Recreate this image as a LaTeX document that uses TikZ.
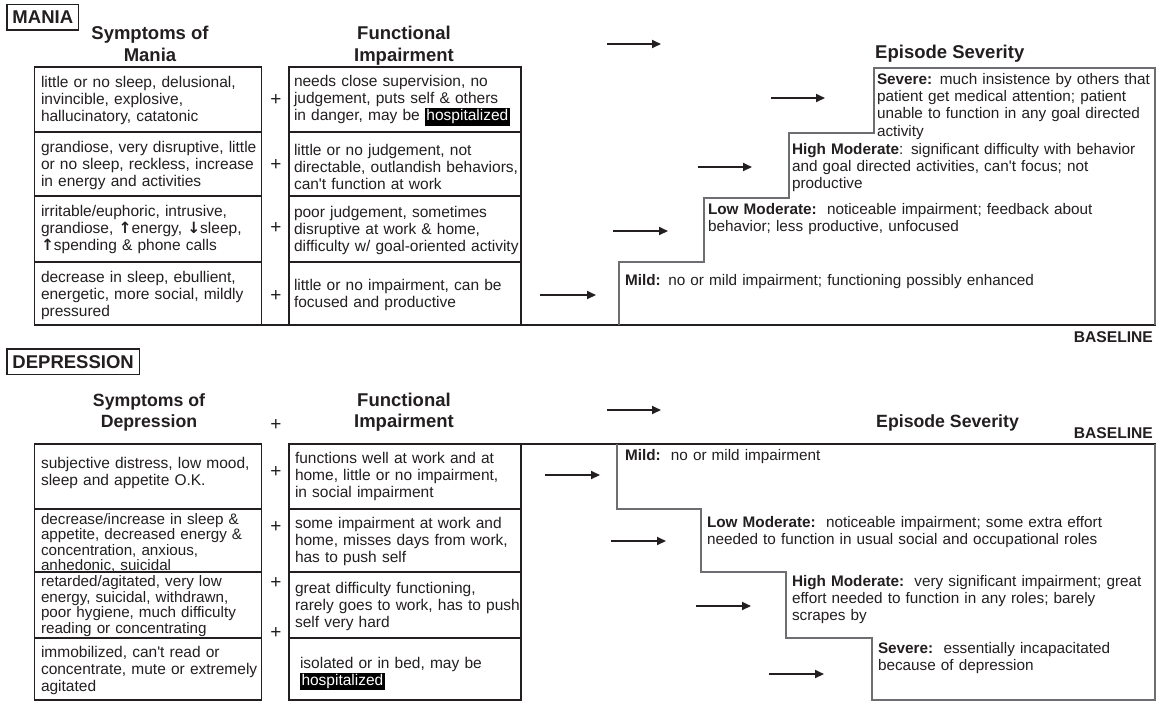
\documentclass[tikz,border=0pt]{standalone}
\usepackage{fontspec}
\setmainfont{Liberation Sans}[Ligatures=TeXOff]
\newfontfamily\arrowfont{DejaVu Sans}
\usetikzlibrary{arrows.meta}
\definecolor{ink}{HTML}{231F20}
\definecolor{stairc}{HTML}{6D6E71}
\newcommand\hosp[1]{\smash{\setlength{\fboxsep}{1.5pt}\colorbox{black}{\textcolor{white}{#1}}}}
\newcommand\upar{{\arrowfont\bfseries ↑}}
\newcommand\dnar{{\arrowfont\bfseries ↓}}
\newcommand\bodyfont{\fontsize{15.5}{17.4}\selectfont}
\newcommand\stairfont{\fontsize{15.3}{17.4}\selectfont}
\newcommand\tightfont{\fontsize{15.2}{15.5}\selectfont}
\tikzset{
  cell/.style={anchor=base west, inner sep=0pt, outer sep=0pt, text width=250pt, align=left, font=\bodyfont, text=ink},
  tcell/.style={cell, font=\tightfont},
  scell/.style={cell, text width=520pt, font=\stairfont},
  head/.style={anchor=base, inner sep=0pt, font=\fontsize{18.5}{20}\selectfont\bfseries, text=ink},
  headb/.style={anchor=base, inner sep=0pt, font=\fontsize{17.7}{20}\selectfont\bfseries, text=ink},
  plus/.style={inner sep=0pt, font=\fontsize{19}{20}\selectfont, text=ink},
  tagbox/.style={anchor=base west, draw=ink, line width=1.1pt, inner xsep=5.5pt, inner ysep=6pt, outer sep=0pt, text height=13pt, text depth=0.5pt, font=\fontsize{18.5}{20}\selectfont\bfseries, text=ink},
  tbl/.style={draw=ink, line width=1.1pt},
  stairline/.style={draw=stairc, line width=1.3pt},
  arr/.style={draw=ink, line width=1.8pt, -{Triangle[length=9pt,width=8pt]}},
  bl/.style={anchor=base east, inner sep=0pt, font=\fontsize{15.6}{17}\selectfont\bfseries, text=ink}
}
\begin{document}
\begin{tikzpicture}[x=1pt,y=-1pt]
\useasboundingbox (0,0) rectangle (1158,702);
\fill[white] (0,0) rectangle (1158,702);

% ================= MANIA =================
\node[tagbox] (mania) at (7,23.5) {MANIA};
\node[head] (hsm1) at (150,39) {Symptoms of};
\node[head] (hsm2) at (150,61) {Mania};
\node[head] (hfm1) at (404,39) {Functional};
\node[head] (hfm2) at (404,61) {Impairment};
\node[head, anchor=base west] (esm) at (875,58) {Episode Severity};

% tables
\draw[tbl] (34.5,67) rectangle (261.5,325);
\draw[tbl] (34.5,132) -- (261.5,132) (34.5,196) -- (261.5,196) (34.5,262) -- (261.5,262);
\draw[tbl] (289,67) rectangle (521,325);
\draw[tbl] (289,132) -- (521,132) (289,196) -- (521,196) (289,262) -- (521,262);
\draw[tbl] (34.5,325) -- (1155.5,325);

\node[cell] (ms1) at (41,87) {little or no sleep, delusional,\\invincible, explosive,\\hallucinatory, catatonic};
\node[cell] (ms2) at (41,152) {grandiose, very disruptive, little\\or no sleep, reckless, increase\\in energy and activities};
\node[cell] (ms3) at (41,216) {irritable/euphoric, intrusive,\\grandiose, \upar energy, \dnar sleep,\\\upar spending \& phone calls};
\node[cell] (ms4) at (41,282) {decrease in sleep, ebullient,\\energetic, more social, mildly\\pressured};

\node[plus] (mp1) at (276,100) {+};
\node[plus] (mp2) at (276,165) {+};
\node[plus] (mp3) at (276,228) {+};
\node[plus] (mp4) at (276,296) {+};

\node[cell] (mf1) at (294,86) {needs close supervision, no\\judgement, puts self \& others\\in danger, may be \hosp{hospitalized}};
\node[cell] (mf2) at (294,155) {little or no judgement, not\\directable, outlandish behaviors,\\can't function at work};
\node[cell] (mf3) at (294,217) {poor judgement, sometimes\\disruptive at work \& home,\\difficulty w/ goal-oriented activity};
\node[cell] (mf4) at (294,290) {little or no impairment, can be\\focused and productive};

% staircase
\draw[stairline] (619,325) -- (619,262) -- (704,262) -- (704,198) -- (789,198) -- (789,133) -- (874,133) -- (874,68) -- (1155,68) -- (1155,325);
\node[scell] (msev) at (877,84) {\textbf{Severe:} much insistence by others that\\patient get medical attention; patient\\unable to function in any goal directed\\activity};
\node[scell] (mhm) at (792,154) {\textbf{High Moderate}: significant difficulty with behavior\\and goal directed activities, can't focus; not\\productive};
\node[scell] (mlm) at (708,214) {\textbf{Low Moderate:}\ \ noticeable impairment; feedback about\\behavior; less productive, unfocused};
\node[scell] (mmild) at (625,285) {\textbf{Mild:} no or mild impairment; functioning possibly enhanced};
\node[bl] (mbase) at (1153,342) {BASELINE};

% arrows
\coordinate (ma1s) at (607,44);  \coordinate (ma1e) at (661,44);
\coordinate (ma2s) at (771,98);  \coordinate (ma2e) at (825,98);
\coordinate (ma3s) at (698,167); \coordinate (ma3e) at (752,167);
\coordinate (ma4s) at (613,231); \coordinate (ma4e) at (668,231);
\coordinate (ma5s) at (540,295); \coordinate (ma5e) at (596,295);
\draw[arr] (ma1s) -- (ma1e);
\draw[arr] (ma2s) -- (ma2e);
\draw[arr] (ma3s) -- (ma3e);
\draw[arr] (ma4s) -- (ma4e);
\draw[arr] (ma5s) -- (ma5e);

% ================= DEPRESSION =================
\node[tagbox] (depr) at (7,368) {DEPRESSION};
\node[headb] (hsd1) at (149,406) {Symptoms of};
\node[headb] (hsd2) at (149,427) {Depression};
\node[head] (hfd1) at (404,406) {Functional};
\node[head] (hfd2) at (404,427) {Impairment};
\node[plus] (dp0) at (276,425) {+};
\node[headb, anchor=base west] (esd) at (876,427) {Episode Severity};
\node[bl] (dbase) at (1153,438) {BASELINE};

\draw[tbl] (34.5,444) rectangle (261.5,700);
\draw[tbl] (34.5,509) -- (261.5,509) (34.5,572) -- (261.5,572) (34.5,638) -- (261.5,638);
\draw[tbl] (289,444) rectangle (521,700);
\draw[tbl] (289,509) -- (521,509) (289,572) -- (521,572) (289,638) -- (521,638);
\draw[tbl] (521,444) -- (1155.5,444);

\node[cell] (ds1) at (41,468) {subjective distress, low mood,\\sleep and appetite O.K.};
\node[tcell] (ds2) at (41,524) {decrease/increase in sleep \&\\appetite, decreased energy \&\\concentration, anxious,\\anhedonic, suicidal};
\node[tcell] (ds3) at (41,586.5) {retarded/agitated, very low\\energy, suicidal, withdrawn,\\poor hygiene, much difficulty\\reading or concentrating};
\node[cell] (ds4) at (41,657) {immobilized, can't read or\\concentrate, mute or extremely\\agitated};

\node[plus] (dp1) at (276,472) {+};
\node[plus] (dp2) at (276,527) {+};
\node[plus] (dp3) at (276,583) {+};
\node[plus] (dp4) at (276,633) {+};

\node[cell] (df1) at (295,463) {functions well at work and at\\home, little or no impairment,\\in social impairment};
\node[cell] (df2) at (295,528) {some impairment at work and\\home, misses days from work,\\has to push self};
\node[cell] (df3) at (295,593) {great difficulty functioning,\\rarely goes to work, has to push\\self very hard};
\node[cell] (df4) at (300,668) {isolated or in bed, may be\\\hosp{hospitalized}};

\draw[stairline] (617,444) -- (617,509) -- (701,509) -- (701,572) -- (786,572) -- (786,638) -- (872,638) -- (872,700) -- (1155,700) -- (1155,444);
\node[scell] (dmild) at (625,460) {\textbf{Mild:}\ \ no or mild impairment};
\node[scell] (dlm) at (707,527) {\textbf{Low Moderate:}\ \ noticeable impairment; some extra effort\\needed to function in usual social and occupational roles};
\node[scell] (dhm) at (792,586) {\textbf{High Moderate:}\ \ very significant impairment; great\\effort needed to function in any roles; barely\\scrapes by};
\node[scell] (dsev) at (878,653) {\textbf{Severe:}\ \ essentially incapacitated\\because of depression};

\coordinate (da1s) at (607,410); \coordinate (da1e) at (661,410);
\coordinate (da2s) at (545,475); \coordinate (da2e) at (600,475);
\coordinate (da3s) at (611,541); \coordinate (da3e) at (666,541);
\coordinate (da4s) at (696,606); \coordinate (da4e) at (751,606);
\coordinate (da5s) at (769,674); \coordinate (da5e) at (824,674);
\draw[arr] (da1s) -- (da1e);
\draw[arr] (da2s) -- (da2e);
\draw[arr] (da3s) -- (da3e);
\draw[arr] (da4s) -- (da4e);
\draw[arr] (da5s) -- (da5e);
\end{tikzpicture}
\end{document}
